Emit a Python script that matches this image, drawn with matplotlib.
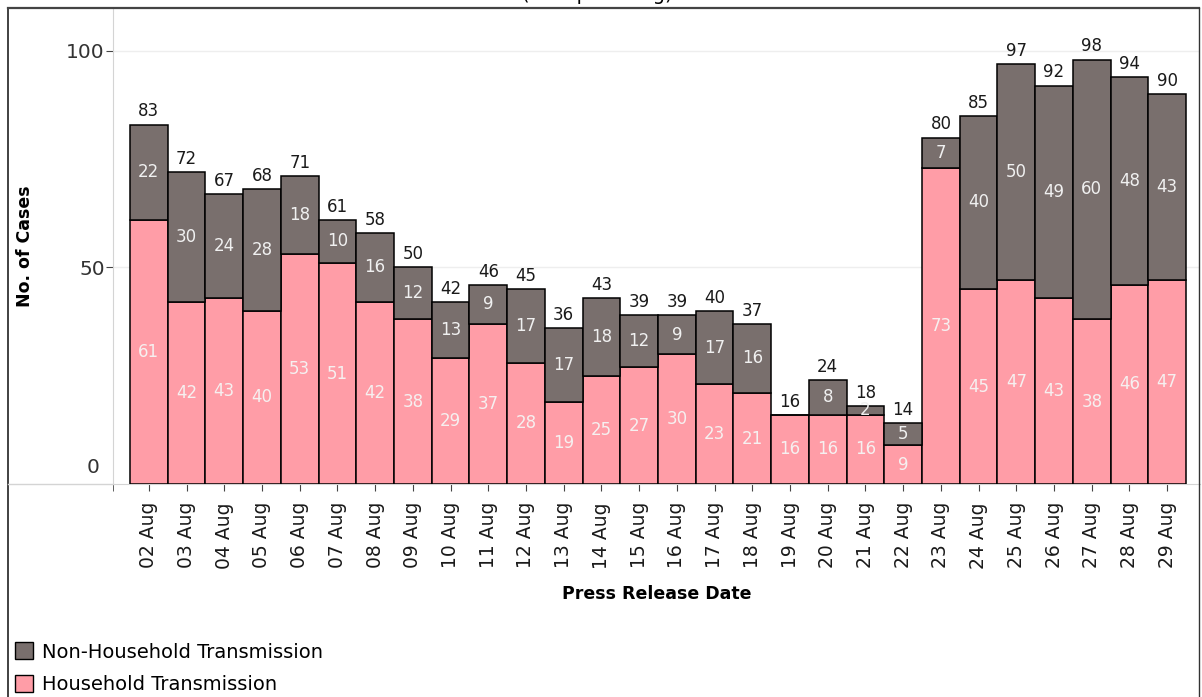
import matplotlib.pyplot as plt
import numpy as np
from matplotlib.patches import Patch
from matplotlib.lines import Line2D

dates = ['02 Aug', '03 Aug', '04 Aug', '05 Aug', '06 Aug', '07 Aug', '08 Aug',
         '09 Aug', '10 Aug', '11 Aug', '12 Aug', '13 Aug', '14 Aug', '15 Aug',
         '16 Aug', '17 Aug', '18 Aug', '19 Aug', '20 Aug', '21 Aug', '22 Aug',
         '23 Aug', '24 Aug', '25 Aug', '26 Aug', '27 Aug', '28 Aug', '29 Aug']
household = [61, 42, 43, 40, 53, 51, 42, 38, 29, 37, 28, 19, 25, 27,
             30, 23, 21, 16, 16, 16, 9, 73, 45, 47, 43, 38, 46, 47]
non_household = [22, 30, 24, 28, 18, 10, 16, 12, 13, 9, 17, 17, 18, 12,
                 9, 17, 16, 0, 8, 2, 5, 7, 40, 50, 49, 60, 48, 43]

pink = '#ff9da7'
grey = '#796f6d'

plt.rcParams['font.family'] = ['DejaVu Sans']

fig = plt.figure(figsize=(12.02, 6.97), dpi=100)
ax = fig.add_axes([113 / 1202, 1 - 484 / 697, (1200 - 113) / 1202, 476 / 697])

x = np.arange(len(dates))
hh = np.array(household)
nh = np.array(non_household)
tot = hh + nh

ax.bar(x, hh, 1.0, color=pink, edgecolor='black', linewidth=1.1, zorder=3)
ax.bar(x, nh, 1.0, bottom=hh, color=grey, edgecolor='black', linewidth=1.1, zorder=3)

for i in range(len(x)):
    ax.text(x[i], hh[i] / 2, str(hh[i]), ha='center', va='center',
            color='#f6f0f0', fontsize=12, zorder=4)
    if nh[i] > 0:
        ax.text(x[i], hh[i] + nh[i] / 2, str(nh[i]), ha='center', va='center',
                color='#f0f0f0', fontsize=12, zorder=4)
    ax.annotate(str(tot[i]), (x[i], tot[i]), xytext=(0, 3), textcoords='offset points',
                ha='center', va='bottom', color='#1a1a1a', fontsize=12, zorder=4)

ax.set_xlim(-0.95, 27.87)
ax.set_ylim(0, 109.9)

# 0 is drawn lifted above the axis line, like the original
ax.set_yticks([50, 100])
ax.set_yticklabels(['50', '100'], fontsize=14.5, color='#333333')
ax.tick_params(axis='y', length=5, color='#444444', pad=1)
ax.annotate('0', xy=(0, 0), xycoords=('axes fraction', 'data'), xytext=(-10, 12),
            textcoords='offset points', ha='right', va='center',
            fontsize=14.5, color='#333333')
ax.grid(axis='y', color='#eeeeee', linewidth=1, zorder=0)

ax.set_xticks(x)
ax.set_xticklabels(dates, rotation=90, fontsize=13.5, color='#1a1a1a')
ax.set_xticks([-0.95], minor=True)
ax.tick_params(axis='x', which='both', length=5, color='#444444', pad=8)

for s in ['top', 'right']:
    ax.spines[s].set_visible(False)
ax.spines['left'].set_color('#d4d4d4')
ax.spines['bottom'].set_color('#d4d4d4')

ax.set_ylabel('No. of Cases', fontsize=12.5, fontweight='bold')
ax.yaxis.set_label_coords(-0.0727, 0.5)
ax.set_xlabel('Press Release Date', fontsize=12.5, fontweight='bold')
ax.xaxis.set_label_coords(0.5, -0.212)

# outer frame, open at the bottom
fig.add_artist(Line2D([8 / 1202, 8 / 1202], [0, 1 - 8 / 697], color='#333333', lw=1.3))
fig.add_artist(Line2D([8 / 1202, 1199 / 1202], [1 - 8 / 697, 1 - 8 / 697], color='#444444', lw=1.6))
fig.add_artist(Line2D([1199 / 1202, 1199 / 1202], [0, 1 - 8 / 697], color='#333333', lw=1.0))
fig.add_artist(Line2D([8 / 1202, 113 / 1202], [1 - 484 / 697, 1 - 484 / 697], color='#d4d4d4', lw=1.0))

# title above the frame, cut off by the top edge as in the original
fig.text(597 / 1202, 1.0, '(Group Setting)', ha='center', va='baseline', fontsize=14)

handles = [Patch(facecolor=grey, edgecolor='black', label='Non-Household Transmission'),
           Patch(facecolor=pink, edgecolor='black', label='Household Transmission')]
fig.legend(handles=handles, loc='lower left', bbox_to_anchor=(7 / 1202, -5 / 697),
           frameon=False, fontsize=14, handlelength=0.95, handleheight=0.95,
           handletextpad=0.45, labelspacing=0.7, borderaxespad=0.0)

fig.savefig('out.png', dpi=100)
